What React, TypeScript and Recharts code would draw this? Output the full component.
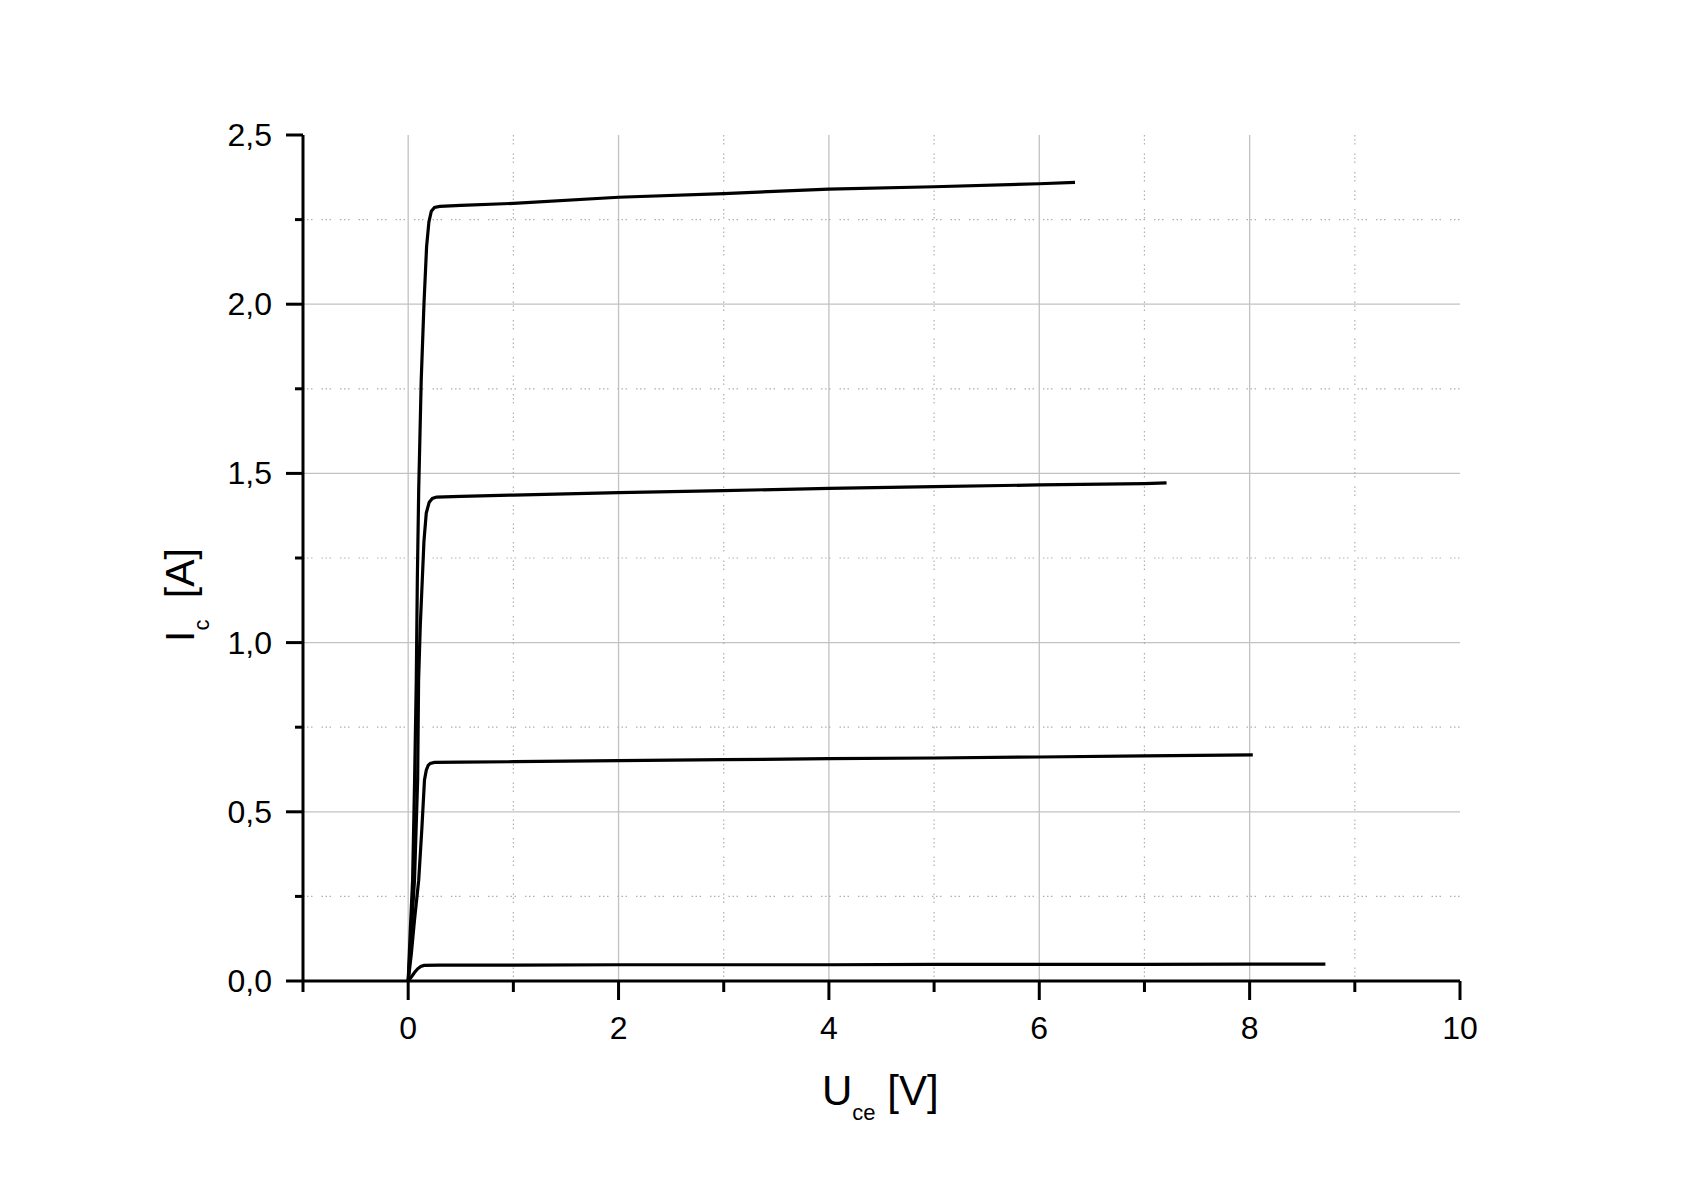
import React from 'react';
import { LineChart, Line, XAxis, YAxis, CartesianGrid } from 'recharts';

// Curve 1 (highest base current)
const curve1V = [0, 0.02, 0.042, 0.061, 0.077, 0.087, 0.1, 0.124, 0.15, 0.175, 0.197, 0.22, 0.25, 0.3, 0.5, 1, 2, 3, 4, 5, 6, 6.34];
const curve1I = [0, 0.15, 0.298, 0.594, 0.889, 1.185, 1.45, 1.776, 2.0, 2.17, 2.243, 2.275, 2.286, 2.289, 2.292, 2.298, 2.316, 2.327, 2.34, 2.347, 2.356, 2.36];

// Curve 2
const curve2V = [0, 0.03, 0.06, 0.09, 0.099, 0.115, 0.134, 0.15, 0.172, 0.2, 0.23, 0.27, 0.5, 1, 2, 3, 4, 5, 6, 7, 7.21];
const curve2I = [0, 0.15, 0.298, 0.594, 0.889, 1.05, 1.185, 1.3, 1.383, 1.415, 1.426, 1.43, 1.432, 1.436, 1.443, 1.449, 1.456, 1.461, 1.466, 1.47, 1.472];

// Curve 3
const curve3V = [0, 0.03, 0.06, 0.1, 0.13, 0.155, 0.172, 0.19, 0.21, 0.25, 0.5, 1, 2, 3, 4, 5, 6, 7, 8.03];
const curve3I = [0, 0.08, 0.18, 0.298, 0.45, 0.594, 0.623, 0.637, 0.643, 0.646, 0.647, 0.648, 0.651, 0.654, 0.657, 0.659, 0.662, 0.665, 0.668];

// Curve 4 (lowest base current)
const curve4V = [0, 0.03, 0.06, 0.09, 0.12, 0.15, 0.3, 1, 2, 3, 4, 5, 6, 7, 8, 8.72];
const curve4I = [0, 0.012, 0.025, 0.036, 0.043, 0.046, 0.047, 0.047, 0.048, 0.048, 0.048, 0.049, 0.049, 0.049, 0.05, 0.05];

// Axis ticks
const xTicks = [-1, 0, 1, 2, 3, 4, 5, 6, 7, 8, 9, 10];
const xMajorTicks = [0, 2, 4, 6, 8, 10];
const yTicks = [0, 0.25, 0.5, 0.75, 1, 1.25, 1.5, 1.75, 2, 2.25, 2.5];
const yMajorTicks = [0, 0.5, 1, 1.5, 2, 2.5];

// Grid lines
const gridXMajor = [0, 2, 4, 6, 8];
const gridXMinor = [1, 3, 5, 7, 9];
const gridYMajor = [0.5, 1, 1.5, 2];
const gridYMinor = [0.25, 0.75, 1.25, 1.75, 2.25];

const toPoints = (v: number[], i: number[]) => v.map((x, k) => ({ v: x, i: i[k] }));

const FONT = 'Liberation Sans, Arial, sans-serif';

const isIn = (arr: number[], val: number) => arr.some((a) => Math.abs(a - val) < 1e-9);

const XTick = (props: any) => {
  const { x, y, payload } = props;
  const major = isIn(xMajorTicks, payload.value);
  return (
    <g>
      <line x1={x} y1={y} x2={x} y2={y + (major ? 19 : 11)} stroke="#000" strokeWidth={3} />
      {major && (
        <text x={x} y={y + 58} textAnchor="middle" fontSize={32} fontFamily={FONT} fill="#000">
          {String(payload.value)}
        </text>
      )}
    </g>
  );
};

const YTick = (props: any) => {
  const { x, y, payload } = props;
  const major = isIn(yMajorTicks, payload.value);
  return (
    <g>
      <line x1={x} y1={y} x2={x - (major ? 17 : 8)} y2={y} stroke="#000" strokeWidth={3} />
      {major && (
        <text x={x - 31} y={y + 11} textAnchor="end" fontSize={32} fontFamily={FONT} fill="#000">
          {payload.value.toFixed(1).replace('.', ',')}
        </text>
      )}
    </g>
  );
};

const W = 1687;
const H = 1169;

export default function App() {
  const lineProps = {
    dataKey: 'i',
    type: 'linear' as const,
    stroke: '#000',
    strokeWidth: 3.2,
    dot: false,
    activeDot: false,
    isAnimationActive: false,
  };
  return (
    <div style={{ position: 'relative', width: W, height: H }}>
      <LineChart width={W} height={H} margin={{ top: 127, right: 235, bottom: 136, left: 235 }}>
        <CartesianGrid
          stroke="#c2c2c2"
          strokeWidth={1.3}
          verticalValues={gridXMajor}
          horizontalValues={gridYMajor}
          syncWithTicks
        />
        <CartesianGrid
          stroke="#b0b0b0"
          strokeWidth={1.2}
          strokeDasharray="1.5 2.5 1.5 2.5 1.5 9"
          verticalValues={gridXMinor}
          horizontalValues={gridYMinor}
          syncWithTicks
        />
        <XAxis
          dataKey="v"
          type="number"
          domain={[-1, 10]}
          allowDataOverflow
          ticks={xTicks}
          interval={0}
          tickSize={0}
          tickMargin={0}
          tickLine={false}
          axisLine={{ stroke: '#000', strokeWidth: 3 }}
          tick={(p: any) => <XTick {...p} />}
          height={60}
        />
        <YAxis
          type="number"
          domain={[0, 2.5]}
          allowDataOverflow
          ticks={yTicks}
          interval={0}
          tickSize={0}
          tickMargin={0}
          tickLine={false}
          axisLine={{ stroke: '#000', strokeWidth: 3 }}
          tick={(p: any) => <YTick {...p} />}
          width={60}
        />
        <Line {...lineProps} data={toPoints(curve4V, curve4I)} />
        <Line {...lineProps} data={toPoints(curve3V, curve3I)} />
        <Line {...lineProps} data={toPoints(curve2V, curve2I)} />
        <Line {...lineProps} data={toPoints(curve1V, curve1I)} />
      </LineChart>
      <svg width={W} height={H} style={{ position: 'absolute', left: 0, top: 0, pointerEvents: 'none' }}>
        <text x={814} y={1097} fontFamily={FONT} fontSize={42} fill="#000">
          <tspan>U</tspan>
          <tspan fontSize={22} dy={15}>ce</tspan>
          <tspan dy={-15}> [V]</tspan>
        </text>
        <text transform="translate(186,634) rotate(-90)" fontFamily={FONT} fontSize={41} fill="#000">
          <tspan>I</tspan>
          <tspan fontSize={22} dy={15}>c</tspan>
          <tspan dy={-15} dx={10}> [A]</tspan>
        </text>
      </svg>
    </div>
  );
}
